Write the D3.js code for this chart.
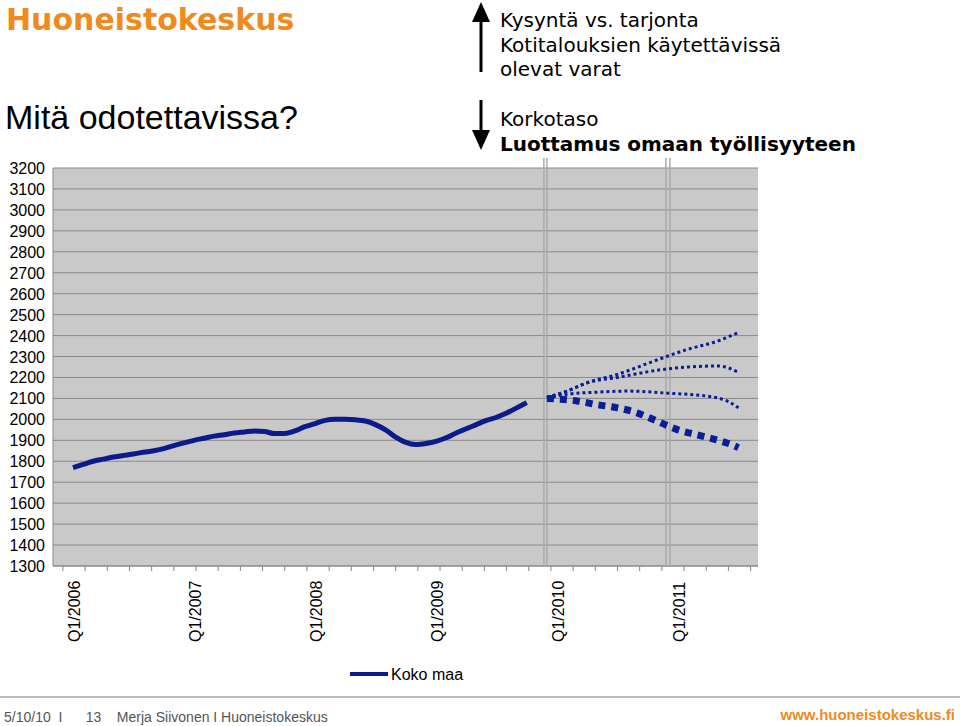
<!DOCTYPE html><html><head><meta charset="utf-8">
<script src="https://cdn.jsdelivr.net/npm/d3@7"></script>
<style>body{margin:0;background:#fff}</style></head><body>
<svg id="c" width="960" height="726"></svg>
<script>
const actual=[1770,1785,1800,1810,1820,1828,1835,1843,1850,1860,1875,1888,1900,1910,1920,1927,1935,1940,1945,1942,1932,1932,1945,1965,1980,1995,2000,2000,1998,1992,1975,1950,1915,1890,1880,1885,1895,1912,1935,1955,1975,1995,2010,2030,2055,2080];
// forecast scenarios: [monthIndex, value]
const fTop=[[45,2080],[47,2105],[49,2135],[51,2175],[54,2215],[58,2285],[61,2335],[64,2375],[66,2415]];
const fHigh=[[45,2080],[47,2105],[49,2135],[51,2175],[54,2200],[58,2235],[61,2250],[64,2255],[66,2225]];
const fMid=[[45,2080],[47,2100],[49,2120],[52,2130],[55,2135],[59,2125],[63,2110],[65,2085],[66,2055]];
const fLow=[[45,2080],[47,2100],[50,2088],[52,2070],[54,2055],[56,2030],[58,1990],[60,1950],[62,1925],[64,1900],[65,1885],[66,1865]];
const yTicks=d3.range(1300,3201,100);
const xLabels=[["Q1/2006",0],["Q1/2007",12],["Q1/2008",24],["Q1/2009",36],["Q1/2010",48],["Q1/2011",60]];
const svg=d3.select("#c");
const L=53,R=758,T=168,B=566;
const x=d3.scaleLinear().domain([0,12]).range([73,194]);
const y=d3.scaleLinear().domain([1300,3200]).range([B,T]);
svg.append("rect").attr("x",L).attr("y",T).attr("width",R-L).attr("height",B-T).attr("fill","#c9c9c9");
svg.selectAll(".g").data(yTicks).join("line").attr("x1",L).attr("x2",R).attr("y1",d=>y(d)).attr("y2",d=>y(d)).attr("stroke","#8a8a8a").attr("stroke-width",1);
svg.selectAll(".yl").data(yTicks).join("text").attr("x",45).attr("y",d=>y(d)+6).attr("text-anchor","end").attr("font-family","Liberation Sans, Arial").attr("font-size",16).text(d=>d);
svg.append("line").attr("x1",L).attr("x2",L).attr("y1",T).attr("y2",B).attr("stroke","#888");
svg.append("line").attr("x1",L).attr("x2",R).attr("y1",B).attr("y2",B).attr("stroke","#888");
const tk=d3.range(-1,69,2.2);
svg.selectAll(".tk").data(tk).join("line").attr("x1",d=>x(d)).attr("x2",d=>x(d)).attr("y1",B).attr("y2",B+5).attr("stroke","#888");
[[46.7,47.0],[58.8,59.2]].forEach(p=>p.forEach(v=>svg.append("line").attr("x1",x(v)).attr("x2",x(v)).attr("y1",158).attr("y2",B).attr("stroke","#aaa").attr("stroke-width",1.5)));
svg.selectAll(".xl").data(xLabels).join("text").attr("transform",d=>`translate(${x(d[1])+7},642) rotate(-90)`).attr("font-family","Liberation Sans, Arial").attr("font-size",16).text(d=>d[0]);
const line=d3.line().x(d=>x(d[0])).y(d=>y(d[1])).curve(d3.curveMonotoneX);
const col="#0a1f96";
svg.append("path").attr("d",line(actual.map((v,i)=>[i,v]))).attr("fill","none").attr("stroke","#0c1a8a").attr("stroke-width",5).attr("stroke-linejoin","round");
[fTop,fHigh,fMid].forEach(f=>svg.append("path").attr("d",line(f.slice(1))).attr("fill","none").attr("stroke",col).attr("stroke-width",3).attr("stroke-dasharray","3,3"));
svg.append("path").attr("d",line(fLow.slice(1))).attr("fill","none").attr("stroke",col).attr("stroke-width",7).attr("stroke-dasharray","7,6");
svg.append("line").attr("x1",350).attr("x2",388).attr("y1",674).attr("y2",674).attr("stroke","#0c1a8a").attr("stroke-width",4);
svg.append("text").attr("x",391).attr("y",680).attr("font-family","Liberation Sans, Arial").attr("font-size",16).text("Koko maa");
svg.append("text").attr("x",6).attr("y",30).attr("font-family","DejaVu Sans").attr("font-weight","bold").attr("font-size",30).attr("fill","#f08a1c").text("Huoneistokeskus");
svg.append("text").attr("x",5).attr("y",129).attr("font-family","Liberation Sans, Arial").attr("font-size",34).text("Mitä odotettavissa?");
const tf="DejaVu Sans";
[["Kysyntä vs. tarjonta",27],["Kotitalouksien käytettävissä",52],["olevat varat",76]].forEach(t=>svg.append("text").attr("x",500).attr("y",t[1]).attr("font-family",tf).attr("font-size",20).text(t[0]));
svg.append("text").attr("x",500).attr("y",126).attr("font-family",tf).attr("font-size",20).text("Korkotaso");
svg.append("text").attr("x",500).attr("y",151).attr("font-family",tf).attr("font-size",20).attr("font-weight","bold").text("Luottamus omaan työllisyyteen");
svg.append("line").attr("x1",481).attr("x2",481).attr("y1",72).attr("y2",20).attr("stroke","#000").attr("stroke-width",3);
svg.append("path").attr("d","M472,22 L481,2 L490,22 Z");
svg.append("line").attr("x1",481).attr("x2",481).attr("y1",100).attr("y2",135).attr("stroke","#000").attr("stroke-width",3);
svg.append("path").attr("d","M472,130 L481,150 L490,130 Z");
svg.append("line").attr("x1",0).attr("x2",960).attr("y1",697).attr("y2",697).attr("stroke","#bbb").attr("stroke-width",2);
svg.append("text").attr("x",4).attr("y",722).attr("font-family","Liberation Sans").attr("font-size",14).attr("fill","#555").attr("xml:space","preserve").text("5/10/10  I      13    Merja Siivonen I Huoneistokeskus");
svg.append("text").attr("x",955).attr("y",720).attr("text-anchor","end").attr("font-family","Liberation Sans").attr("font-weight","bold").attr("font-size",15).attr("fill","#f08a1c").text("www.huoneistokeskus.fi");
</script></body></html>
